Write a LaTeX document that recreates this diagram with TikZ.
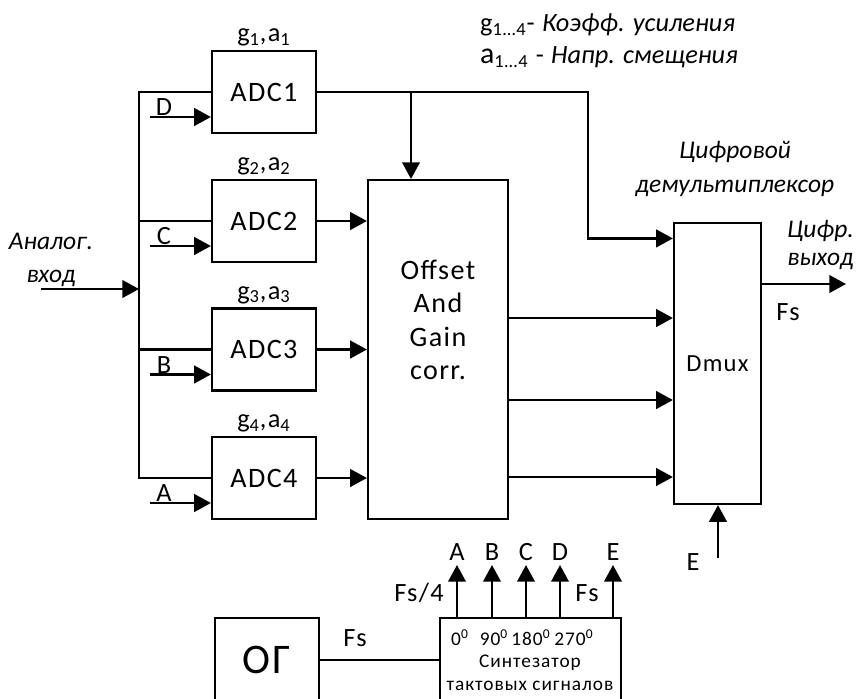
\documentclass[tikz,border=0pt]{standalone}
\usepackage{fontspec}
\setmainfont{Carlito}[LetterSpace=5,ItalicFeatures={LetterSpace=0}]
\usetikzlibrary{arrows.meta,positioning}

\begin{document}
\begin{tikzpicture}[x=0.02cm,y=-0.02cm,
    blk/.style={draw,line width=1.25pt,minimum width=2.08cm,minimum height=1.64cm,
                inner sep=0pt,font=\fontsize{16}{19}\selectfont,align=center},
    wire/.style={line width=1.25pt},
    sig/.style={line width=1.25pt,-{Triangle[length=9.5pt,width=10pt]}},
    lbl/.style={inner sep=1pt,font=\fontsize{15}{17}\selectfont},
    small/.style={inner sep=1pt,font=\fontsize{11}{13}\selectfont,align=center},
    ital/.style={inner sep=1pt,font=\fontsize{14.5}{16}\selectfont\itshape,align=center}]
    \useasboundingbox (0,0) rectangle (856,698);
    \clip (0,0) rectangle (856,698);
    % converters
    \node[blk] (adc1) at (264,92)    {ADC1};
    \node[blk] (adc2) at (264,221)   {ADC2};
    \node[blk] (adc3) at (264,349.5) {ADC3};
    \node[blk] (adc4) at (264,478)   {ADC4};
    \node[blk,minimum width=2.8cm,minimum height=6.78cm] (corr) at (438,349.5) {};
    \node[lbl,font=\fontsize{16}{19}\selectfont,align=center] (corrtxt) at (438,320) {Offset\\And\\Gain\\corr.};
    \node[blk,minimum width=1.74cm,minimum height=5.62cm,font=\fontsize{14}{16}\selectfont] (dmux) at (717.5,363.5) {Dmux};
    \node[blk,minimum height=1.68cm,font=\fontsize{24}{28}\selectfont] (og) at (267,660) {ОГ};
    \node[blk,minimum width=3.62cm,minimum height=1.68cm] (synth) at (530.5,660) {};
    \node[small] (synthtxt) at (530,673) {Синтезатор\\тактовых сигналов};
    % labels
    \foreach \n in {1,2,3,4}
      \node[lbl,above=1pt of adc\n] (ga\n) {g\textsubscript{\n},a\textsubscript{\n}};
    \node[lbl,anchor=west] (leg1) at (478,25) {g\textsubscript{1…4}- \textit{Коэфф. усиления}};
    \node[lbl,anchor=west] (leg2) at (478,57) {{\fontsize{17}{17}\selectfont a}\textsubscript{1…4} - \textit{Напр. смещения}};
    \node[ital] (ain) at (51,260) {Аналог.\\[3pt]вход};
    \node[ital,anchor=east] (dout) at (856,245) {Цифр.\\выход};
    \node[ital] (dmuxname) at (735,169) {Цифровой\\[3pt]демультиплексор};
    \node[lbl] (fsout) at (788,312) {Fs};
    \node[lbl] (fsog) at (355,638) {Fs};
    \node[lbl] (fs4) at (419,593) {Fs/4};
    \node[lbl] (fs1) at (587,593) {Fs};
    \node[lbl] (elbl) at (693,562) {E};
    % input bus
    \coordinate (bus) at (139,0);
    \coordinate (in) at (41,289);
    \draw[sig] (in) -- (in -| bus);
    \draw[wire] (adc1.west) -- (adc1.west -| bus) -- (adc4.west -| bus) -- (adc4.west);
    \foreach \n in {2,3}
      \draw[wire] (adc\n.west) -- (adc\n.west -| bus);
    \foreach \n/\c in {1/D,2/C,3/B,4/A} {
      \coordinate (clk\n) at ([xshift=-1.22cm,yshift=-0.5cm]adc\n.west);
      \draw[sig] (clk\n) -- node[lbl,pos=0.23,above=-1pt] (clab\n) {\c} ([yshift=-0.5cm]adc\n.west);
    }
    % to correction and dmux
    \foreach \n in {2,3,4}
      \draw[sig] (adc\n.east) -- (adc\n.east -| corr.west);
    \coordinate (turn) at (588,0);
    \coordinate (tap) at (411,0);
    \coordinate (d1) at ([yshift=-0.33cm]dmux.north west);
    \draw[sig] (adc1.east) -- (adc1.east -| turn) |- (d1);
    \draw[sig] (adc1.east -| tap) -- (tap |- corr.north);
    \foreach \y [count=\i] in {318,400,477} {
      \coordinate (o\i) at (508,\y);
      \draw[sig] (corr.east |- o\i) -- (dmux.west |- o\i);
    }
    \coordinate (out) at (846,284);
    \draw[sig] (dmux.east |- out) -- (out);
    \coordinate (e) at (718,558);
    \draw[sig] (e) -- (e |- dmux.south);
    % clock synthesis
    \draw[wire] (og.east) -- (synth.west);
    \foreach \x/\l in {457/A,492/B,526/C,560/D,613/E} {
      \coordinate (t\l) at (\x,565);
      \draw[sig] (synth.north -| t\l) -- (t\l) node[lbl,above=1pt] (ph\l) {\l};
    }
    \foreach \x/\d in {460/0,494/90,531/180,574/270}
      \node[small] (deg\d) at (\x,638) {\d\textsuperscript{0}};
\end{tikzpicture}
\end{document}
